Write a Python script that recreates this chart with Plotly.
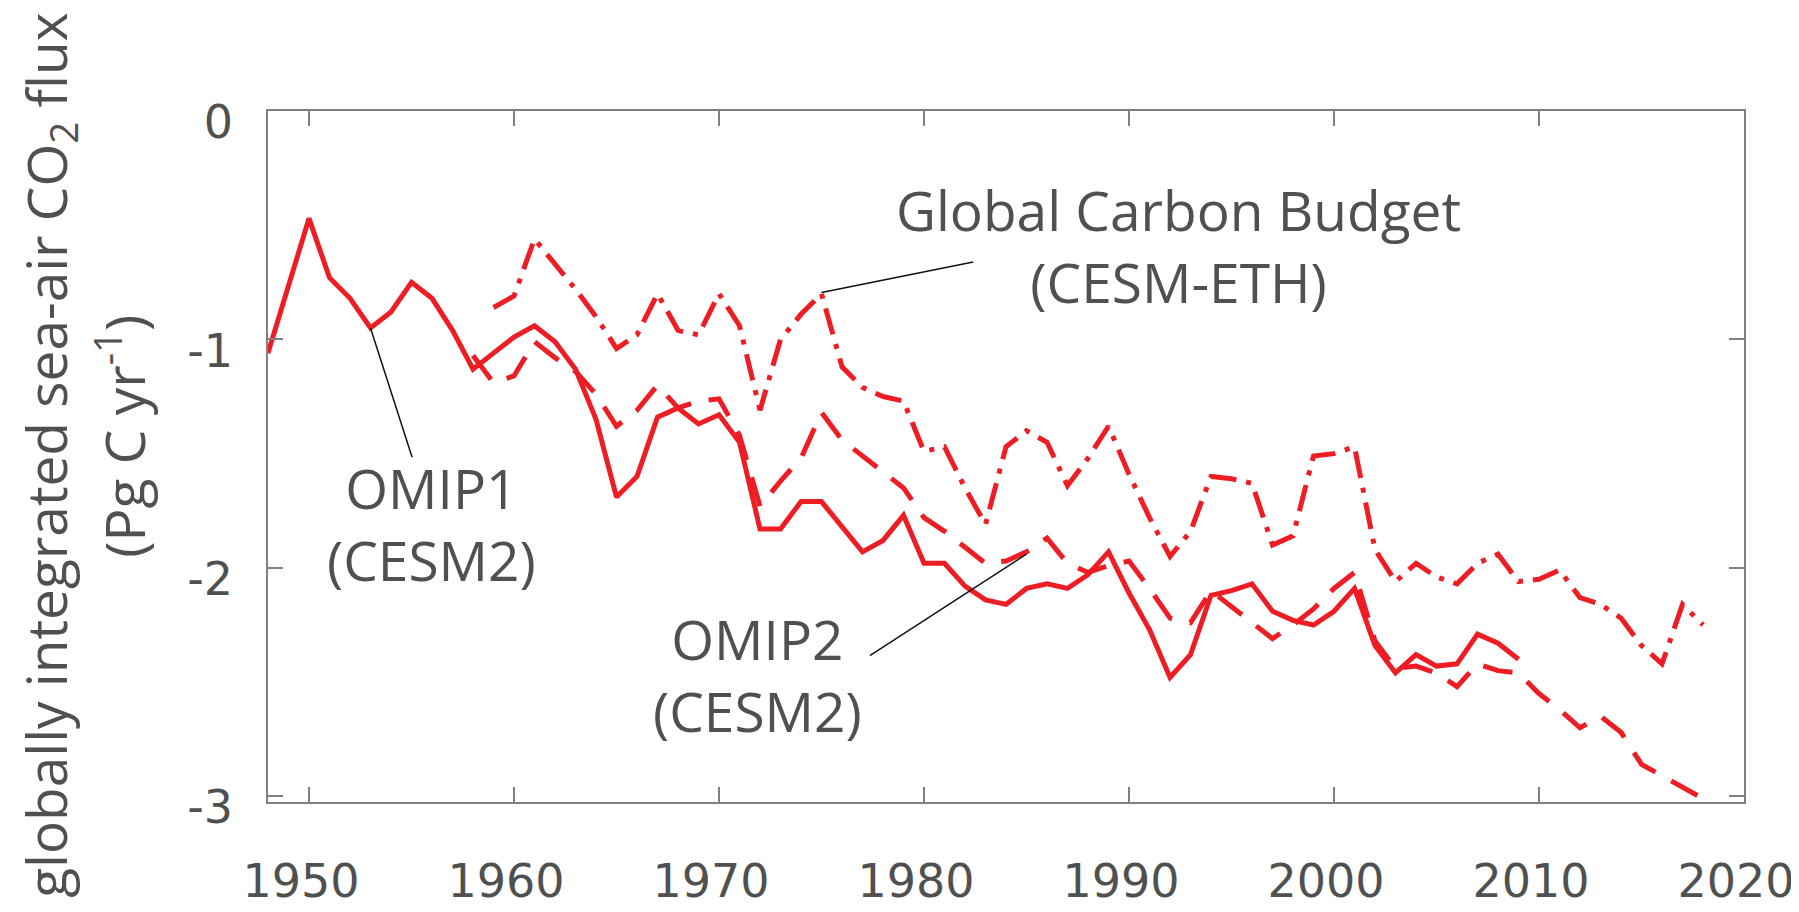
import plotly.graph_objects as go

# ---------------- data (Pg C / yr) ----------------
omip1_years = list(range(1948, 2010))
omip1_flux = [
    -1.06, -0.77, -0.47, -0.73, -0.82, -0.95, -0.88, -0.75, -0.82, -0.96,
    -1.13, -1.06, -0.99, -0.94, -1.01, -1.13, -1.35, -1.69, -1.60, -1.34,
    -1.30, -1.37, -1.33, -1.45, -1.83, -1.83, -1.71, -1.71, -1.82, -1.93,
    -1.88, -1.77, -1.98, -1.98, -2.08, -2.14, -2.16, -2.09, -2.07, -2.09,
    -2.03, -1.93, -2.11, -2.27, -2.48, -2.38, -2.12, -2.10, -2.07, -2.19,
    -2.23, -2.25, -2.19, -2.09, -2.34, -2.46, -2.38, -2.43, -2.42, -2.29,
    -2.33, -2.40,
]

omip2_years = list(range(1958, 2019))
omip2_flux = [
    -1.07, -1.19, -1.16, -1.01, -1.08, -1.14, -1.24, -1.38, -1.31, -1.20,
    -1.30, -1.27, -1.26, -1.42, -1.73, -1.62, -1.52, -1.32, -1.44, -1.51,
    -1.58, -1.65, -1.78, -1.84, -1.91, -1.98, -1.97, -1.93, -1.87, -1.98,
    -2.02, -1.99, -1.97, -2.09, -2.22, -2.24, -2.10, -2.17, -2.24, -2.31,
    -2.25, -2.18, -2.09, -2.02, -2.32, -2.44, -2.43, -2.46, -2.52, -2.42,
    -2.45, -2.46, -2.55, -2.62, -2.70, -2.65, -2.72, -2.86, -2.91, -2.96,
    -3.01,
]

gcb_years = list(range(1959, 2019))
gcb_flux = [
    -0.86, -0.81, -0.56, -0.67, -0.78, -0.90, -1.04, -0.98, -0.80,
    -0.96, -0.98, -0.80, -0.94, -1.31, -1.00, -0.89, -0.80, -1.12, -1.21,
    -1.25, -1.27, -1.49, -1.47, -1.65, -1.81, -1.47, -1.40, -1.45, -1.64,
    -1.52, -1.38, -1.59, -1.78, -1.95, -1.84, -1.60, -1.61, -1.63, -1.90,
    -1.86, -1.51, -1.50, -1.47, -1.92, -2.06, -1.98, -2.04, -2.07, -1.98,
    -1.94, -2.06, -2.05, -2.01, -2.13, -2.16, -2.22, -2.34, -2.42, -2.16,
    -2.25,
]

x_tick_vals = [1950, 1960, 1970, 1980, 1990, 2000, 2010, 2020]
x_tick_text = ["1950", "1960", "1970", "1980", "1990", "2000", "2010", "2020"]
y_tick_vals = [0, -1, -2, -3]
y_tick_text = ["0", "-1", "-2", "-3"]

# ---------------- styling ----------------
RED = "#ee1d24"
TXT = "#505050"
AXC = "#808080"
FONT = "Open Sans"
TICKFONT = "DejaVu Sans"

fig = go.Figure()

fig.add_trace(go.Scatter(x=omip1_years, y=omip1_flux, mode="lines",
                         name="OMIP1 (CESM2)",
                         line=dict(color=RED, width=5, dash="solid")))
fig.add_trace(go.Scatter(x=omip2_years, y=omip2_flux, mode="lines",
                         name="OMIP2 (CESM2)",
                         line=dict(color=RED, width=5, dash="30px,18px")))
fig.add_trace(go.Scatter(x=gcb_years, y=gcb_flux, mode="lines",
                         name="Global Carbon Budget (CESM-ETH)",
                         line=dict(color=RED, width=5, dash="27px,10px,5px,10px")))

ann_font = dict(family=FONT, size=55, color=TXT)
labels = [
    ("OMIP1<br>(CESM2)", 1955.96, -1.804),
    ("OMIP2<br>(CESM2)", 1971.90, -2.469),
    ("Global Carbon Budget<br>(CESM-ETH)", 1992.4, -0.588),
]
annotations = []
for txt, ax_, ay_ in labels:
    annotations.append(dict(text=txt, x=ax_, y=ay_, xref="x", yref="y",
                            showarrow=False, xanchor="center", yanchor="middle",
                            align="center", font=ann_font))

# y-axis title (two lines)
title_font = dict(family=FONT, size=55, color=TXT)
annotations.append(dict(text="globally integrated sea-air CO<sub>2</sub> flux",
                        x=-0.1486, y=0.502, xref="paper", yref="paper",
                        textangle=-90, showarrow=False,
                        xanchor="center", yanchor="middle", font=title_font))
annotations.append(dict(text="(Pg C yr<sup>-1</sup>)",
                        x=-0.0996, y=0.530, xref="paper", yref="paper",
                        textangle=-90, showarrow=False,
                        xanchor="center", yanchor="middle", font=title_font))

leader = dict(color="#111111", width=1.5)
shapes = [
    dict(type="line", xref="x", yref="y", x0=1953, y0=-0.95, x1=1955.03, y1=-1.516, line=leader),
    dict(type="line", xref="x", yref="y", x0=1975, y0=-0.795, x1=1982.4, y1=-0.661, line=leader),
    dict(type="line", xref="x", yref="y", x0=1977.36, y0=-2.384, x1=1985.0, y1=-1.94, line=leader),
]

fig.update_layout(
    width=1799, height=912,
    margin=dict(l=260, r=60, t=103, b=94),
    paper_bgcolor="white", plot_bgcolor="white",
    showlegend=False,
    font=dict(family=FONT, color=TXT),
    annotations=annotations,
    shapes=shapes,
)

fig.update_xaxes(
    range=[1948, 2020],
    tickmode="array", tickvals=x_tick_vals, ticktext=x_tick_text,
    ticks="inside", ticklen=15, tickwidth=1.5, tickcolor=AXC,
    showline=True, linecolor=AXC, linewidth=1.5, mirror="ticks",
    showgrid=False, zeroline=False,
    tickfont=dict(family=TICKFONT, size=46, color=TXT),
    ticklabelstandoff=38, ticklabelshift=-8,
)
fig.update_yaxes(
    range=[-3.025, 0],
    tickmode="array", tickvals=y_tick_vals, ticktext=y_tick_text,
    ticks="inside", ticklen=15, tickwidth=1.5, tickcolor=AXC,
    showline=True, linecolor=AXC, linewidth=1.5, mirror="ticks",
    showgrid=False, zeroline=False,
    tickfont=dict(family=TICKFONT, size=46, color=TXT),
    ticklabelstandoff=24, ticklabelshift=11,
)

fig.write_html("out.html")
